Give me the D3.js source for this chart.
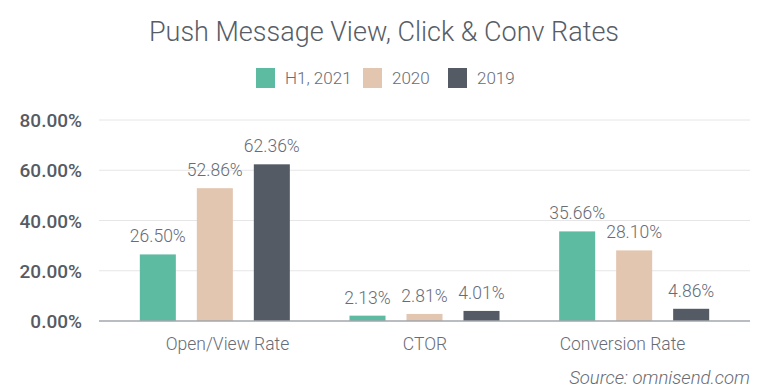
<!DOCTYPE html>
<html>
<head>
<meta charset="utf-8">
<script src="https://cdn.jsdelivr.net/npm/d3@7/dist/d3.min.js"></script>
<style>
  html, body { margin: 0; padding: 0; background: #fff; }
  svg { display: block; font-family: Roboto, sans-serif; }
</style>
</head>
<body>
<div id="chart"></div>
<script>
// data
const categories = ['Open/View Rate', 'CTOR', 'Conversion Rate'];
const seriesNames = ['H1, 2021', '2020', '2019'];
const h12021 = [26.50, 2.13, 35.66];
const y2020 = [52.86, 2.81, 28.10];
const y2019 = [62.36, 4.01, 4.86];
const yTicks = [0, 20, 40, 60, 80];

const colors = ['#5dbba2', '#e3c6b0', '#545b65'];
const seriesValues = [h12021, y2020, y2019];

const W = 768, H = 390;
const svg = d3.select('#chart').append('svg')
  .attr('width', W).attr('height', H);

// Title
svg.append('text')
  .attr('x', 384).attr('y', 41)
  .attr('text-anchor', 'middle')
  .attr('font-size', 27).attr('font-weight', 300)
  .attr('fill', '#575d67')
  .text('Push Message View, Click & Conv Rates');

// Legend
const legendX = [256, 363, 448];
const legend = svg.selectAll('.legend')
  .data(seriesNames)
  .join('g')
  .attr('transform', (d, i) => `translate(${legendX[i]},68)`);
legend.append('rect')
  .attr('width', 19).attr('height', 20)
  .attr('fill', (d, i) => colors[i]);
legend.append('text')
  .attr('x', 29).attr('y', 15.5)
  .attr('font-size', 17).attr('font-weight', 300)
  .attr('fill', '#676c75')
  .text(d => d);

// Scales
const gridLeft = 99, gridRight = 750;
const y = d3.scaleLinear().domain([0, 80]).range([321, 120]);
const x0 = d3.scaleBand().domain(categories).range([110, 739]);
const bw = x0.bandwidth();
const x1 = d3.scaleBand().domain(seriesNames)
  .range([bw / 2 - 85.5, bw / 2 + 85.5])
  .paddingInner(0.368).paddingOuter(0.184);
// category labels sit on their own, slightly narrower slots
const xLabel = d3.scaleBand().domain(categories).range([128.75, 721.25]);

// Gridlines
svg.append('g').selectAll('line')
  .data(yTicks.filter(t => t > 0))
  .join('line')
  .attr('x1', gridLeft).attr('x2', gridRight)
  .attr('y1', d => y(d)).attr('y2', d => y(d))
  .attr('stroke', '#e6e6e6').attr('stroke-width', 1);

// Y labels
svg.append('g').selectAll('text')
  .data(yTicks)
  .join('text')
  .attr('x', 82).attr('y', d => y(d) + 7)
  .attr('text-anchor', 'end')
  .attr('font-size', 19).attr('font-weight', 500)
  .attr('fill', '#555b65')
  .text(d => d3.format('.2f')(d) + '%');

// Bars
const rows = categories.map((c, ci) => ({
  cat: c,
  vals: seriesNames.map((s, si) => ({ s, si, v: seriesValues[si][ci] }))
}));
const groups = svg.append('g').selectAll('g')
  .data(rows)
  .join('g')
  .attr('transform', d => `translate(${x0(d.cat)},0)`);
groups.selectAll('rect')
  .data(d => d.vals)
  .join('rect')
  .attr('x', d => x1(d.s))
  .attr('width', x1.bandwidth())
  .attr('y', d => y(d.v))
  .attr('height', d => y(0) - y(d.v))
  .attr('fill', d => colors[d.si]);
groups.selectAll('text')
  .data(d => d.vals)
  .join('text')
  .attr('x', d => x1(d.s) + x1.bandwidth() / 2)
  .attr('y', d => y(d.v) - 12)
  .attr('text-anchor', 'middle')
  .attr('font-size', 17.5).attr('font-weight', 300)
  .attr('fill', '#676c75')
  .text(d => d.v.toFixed(2) + '%');

// Baseline
svg.append('line')
  .attr('x1', gridLeft).attr('x2', gridRight)
  .attr('y1', y(0)).attr('y2', y(0))
  .attr('stroke', '#a2a6ac').attr('stroke-width', 1.5);

// Category labels
svg.append('g').selectAll('text')
  .data(categories)
  .join('text')
  .attr('x', d => xLabel(d) + xLabel.bandwidth() / 2)
  .attr('y', 350)
  .attr('text-anchor', 'middle')
  .attr('font-size', 17.5).attr('font-weight', 300)
  .attr('fill', '#676c75')
  .text(d => d);

// Source
svg.append('text')
  .attr('x', 750).attr('y', 384)
  .attr('text-anchor', 'end')
  .attr('font-size', 18.5).attr('font-style', 'italic').attr('font-weight', 300)
  .attr('fill', '#676c75')
  .text('Source: omnisend.com');
</script>
</body>
</html>
